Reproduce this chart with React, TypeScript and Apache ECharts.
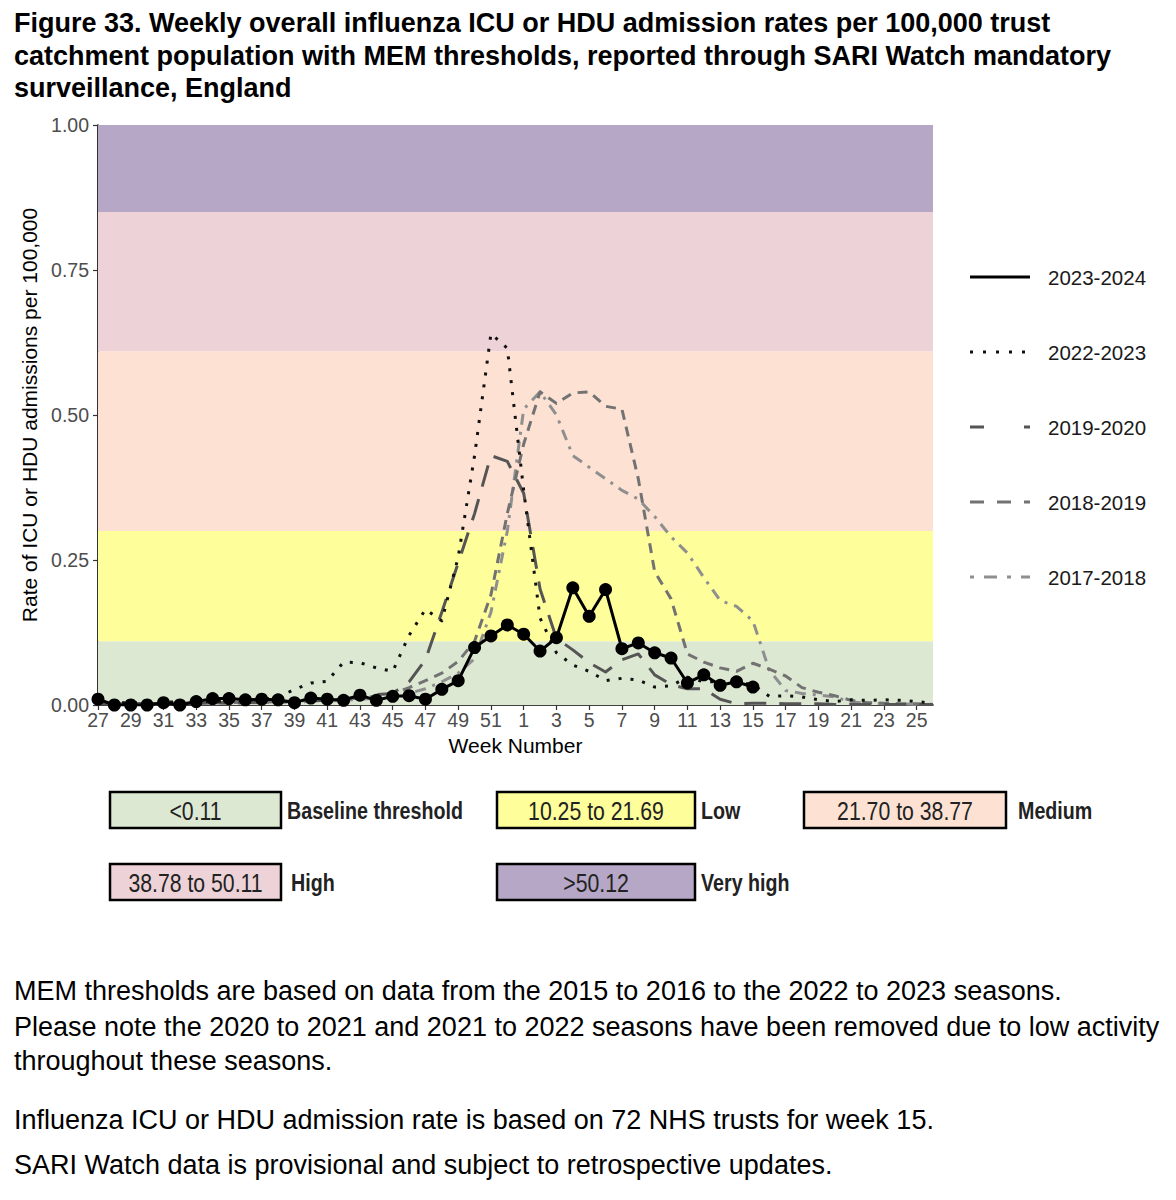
import React, { useEffect, useRef } from "react";
import * as echarts from "echarts";

// ---- categories ----
const weeks = [
  "27","28","29","30","31","32","33","34","35","36","37","38","39","40","41","42","43","44","45","46","47","48","49","50","51","52",
  "1","2","3","4","5","6","7","8","9","10","11","12","13","14","15","16","17","18","19","20","21","22","23","24","25","26",
];

// ---- series values (rate per 100,000) ----
const s2324 = [
  0.010, 0.000, 0.000, 0.000, 0.004, 0.000, 0.006, 0.011, 0.011, 0.009, 0.010, 0.009, 0.004, 0.012, 0.010, 0.008, 0.017, 0.008, 0.015, 0.016, 0.010, 0.027, 0.042, 0.099, 0.119, 0.138,
  0.122, 0.093, 0.116, 0.202, 0.153, 0.199, 0.097, 0.107, 0.090, 0.081, 0.038, 0.052, 0.034, 0.040, 0.031,
];
const s2223 = [
  0.005, 0.004, 0.004, 0.004, 0.005, 0.005, 0.006, 0.006, 0.007, 0.008, 0.010, 0.013, 0.027, 0.038, 0.041, 0.074, 0.073, 0.064, 0.058, 0.120, 0.165, 0.145, 0.255, 0.430, 0.640, 0.615,
  0.370, 0.150, 0.090, 0.069, 0.058, 0.042, 0.046, 0.043, 0.031, 0.033, 0.048, 0.040, 0.040, 0.040, 0.035, 0.015, 0.016, 0.014, 0.009, 0.006, 0.009, 0.008, 0.009, 0.008, 0.006, 0.003,
];
const s1920 = [
  0.003, 0.002, 0.002, 0.002, 0.003, 0.003, 0.003, 0.004, 0.004, 0.004, 0.005, 0.005, 0.006, 0.007, 0.008, 0.010, 0.016, 0.018, 0.020, 0.040, 0.078, 0.160, 0.245, 0.330, 0.430, 0.420,
  0.365, 0.200, 0.115, 0.095, 0.073, 0.057, 0.078, 0.088, 0.052, 0.035, 0.028, 0.028, 0.010, 0.002, 0.003, 0.003, 0.002, 0.002, 0.002, 0.001, 0.001, 0.001, 0.001, 0.001, 0.001, 0.001,
];
const s1819 = [
  0.003, 0.003, 0.002, 0.002, 0.003, 0.003, 0.003, 0.004, 0.004, 0.005, 0.005, 0.006, 0.007, 0.008, 0.009, 0.010, 0.012, 0.015, 0.020, 0.030, 0.042, 0.055, 0.075, 0.110, 0.190, 0.330,
  0.450, 0.540, 0.520, 0.538, 0.540, 0.515, 0.510, 0.390, 0.230, 0.183, 0.088, 0.074, 0.064, 0.058, 0.072, 0.062, 0.050, 0.030, 0.022, 0.016, 0.008, 0.004, 0.003, 0.002, 0.002, 0.001,
];
const s1718 = [
  0.002, 0.002, 0.002, 0.002, 0.002, 0.003, 0.003, 0.003, 0.003, 0.004, 0.004, 0.005, 0.005, 0.006, 0.007, 0.008, 0.010, 0.012, 0.015, 0.020, 0.028, 0.040, 0.055, 0.080, 0.160, 0.300,
  0.510, 0.540, 0.500, 0.430, 0.410, 0.390, 0.370, 0.355, 0.325, 0.290, 0.262, 0.220, 0.180, 0.170, 0.145, 0.060, 0.025, 0.020, 0.017, 0.014, 0.005, 0.003, 0.002, 0.002, 0.001, 0.001,
];

// ---- axis ticks ----
const yTicks = [0, 0.25, 0.5, 0.75, 1.0];

// ---- MEM threshold bands ----
const bandEdges = [0, 0.11, 0.3, 0.61, 0.85, 1.0];
const bandColors = ["#dde8d3", "#fefe9a", "#fde2d3", "#edd3d7", "#b5a7c5"];
const thresholdRanges = ["<0.11", "10.25 to 21.69", "21.70 to 38.77", "38.78 to 50.11", ">50.12"];
const thresholdNames = ["Baseline threshold", "Low", "Medium", "High", "Very high"];

// ---- legend ----
const seasonNames = ["2023-2024", "2022-2023", "2019-2020", "2018-2019", "2017-2018"];

const titleLines = [
  "Figure 33. Weekly overall influenza ICU or HDU admission rates per 100,000 trust",
  "catchment population with MEM thresholds, reported through SARI Watch mandatory",
  "surveillance, England",
];
const noteLines = [
  "MEM thresholds are based on data from the 2015 to 2016 to the 2022 to 2023 seasons.",
  "Please note the 2020 to 2021 and 2021 to 2022 seasons have been removed due to low activity",
  "throughout these seasons.",
  "Influenza ICU or HDU admission rate is based on 72 NHS trusts for week 15.",
  "SARI Watch data is provisional and subject to retrospective updates.",
];

const FONT = "'Liberation Sans', Arial, Helvetica, sans-serif";

function buildOption() {
  const styles: Record<string, any> = {
    "2023-2024": { color: "#000000", width: 3, type: "solid", legendDash: null },
    "2022-2023": { color: "#111111", width: 3, type: [3, 9], legendDash: [3, 10] },
    "2019-2020": { color: "#555555", width: 3, type: [22, 13], legendDash: [14, 40] },
    "2018-2019": { color: "#727272", width: 3, type: [10, 7], legendDash: [14, 13] },
    "2017-2018": { color: "#8f8f8f", width: 3, type: [3, 7, 11, 7], legendDash: [4, 10, 13, 10] },
  };
  const seriesData: Record<string, number[]> = {
    "2023-2024": s2324,
    "2022-2023": s2223,
    "2019-2020": s1920,
    "2018-2019": s1819,
    "2017-2018": s1718,
  };
  const drawOrder = ["2017-2018", "2018-2019", "2019-2020", "2022-2023", "2023-2024"];

  const series: any[] = [
    {
      type: "line",
      name: "bands",
      data: weeks.map(() => null),
      silent: true,
      z: 1,
      symbol: "none",
      markArea: {
        silent: true,
        label: { show: false },
        data: bandColors.map((c, i) => [
          { yAxis: bandEdges[i], itemStyle: { color: c, opacity: 1 } },
          { yAxis: bandEdges[i + 1] },
        ]),
      },
    },
  ];
  drawOrder.forEach((name, k) => {
    const st = styles[name];
    const isCurrent = name === "2023-2024";
    series.push({
      type: "line",
      name,
      data: seriesData[name],
      z: 3 + k,
      symbol: isCurrent ? "circle" : "none",
      symbolSize: 13,
      showAllSymbol: true,
      itemStyle: { color: st.color },
      lineStyle: { color: st.color, width: st.width, type: st.type, cap: "butt", join: "round" },
      silent: true,
    });
  });

  const graphic: any[] = [];
  titleLines.forEach((t, i) => {
    graphic.push({
      type: "text",
      x: 14,
      y: 23 + i * 32.5,
      style: { text: t, fontSize: 27, fontWeight: "bold", fontFamily: FONT, fill: "#000", align: "left", verticalAlign: "middle" },
    });
  });
  // right legend
  seasonNames.forEach((name, i) => {
    const st = styles[name];
    const y = 277 + i * 75;
    graphic.push({
      type: "line",
      shape: { x1: 970, y1: y, x2: 1030, y2: y },
      style: { stroke: st.color, lineWidth: 3, lineDash: st.legendDash || undefined, lineCap: "butt" },
    });
    graphic.push({
      type: "text",
      x: 1048,
      y,
      style: { text: name, fontSize: 20.5, fontFamily: FONT, fill: "#1a1a1a", align: "left", verticalAlign: "middle" },
    });
  });
  // threshold key boxes
  const boxPos = [
    { x: 110, y: 792, w: 171, lx: 287 },
    { x: 497, y: 792, w: 198, lx: 701 },
    { x: 804, y: 792, w: 202, lx: 1018 },
    { x: 110, y: 864, w: 171, lx: 291 },
    { x: 497, y: 864, w: 198, lx: 701 },
  ];
  thresholdRanges.forEach((r, i) => {
    const b = boxPos[i];
    graphic.push({
      type: "rect",
      shape: { x: b.x, y: b.y, width: b.w, height: 36 },
      style: { fill: bandColors[i], stroke: "#000", lineWidth: 2.5 },
    });
    graphic.push({
      type: "text",
      x: b.x + b.w / 2,
      y: b.y + 19,
      scaleX: 0.85,
      style: { text: r, fontSize: 25, fontFamily: FONT, fill: "#222", align: "center", verticalAlign: "middle" },
    });
    graphic.push({
      type: "text",
      x: b.lx,
      y: b.y + 19,
      scaleX: 0.82,
      style: { text: thresholdNames[i], fontSize: 24, fontWeight: "bold", fontFamily: FONT, fill: "#222", align: "left", verticalAlign: "middle" },
    });
  });
  // notes
  const noteY = [991, 1027, 1061, 1120, 1165];
  noteLines.forEach((t, i) => {
    graphic.push({
      type: "text",
      x: 14,
      y: noteY[i],
      style: { text: t, fontSize: 27, fontFamily: FONT, fill: "#000", align: "left", verticalAlign: "middle" },
    });
  });

  return {
    animation: false,
    backgroundColor: "#ffffff",
    grid: { left: 98, top: 125, right: 243, bottom: 495, containLabel: false },
    xAxis: {
      type: "category",
      data: weeks,
      boundaryGap: false,
      name: "Week Number",
      nameLocation: "middle",
      nameGap: 30,
      nameTextStyle: { fontSize: 21, fontFamily: FONT, color: "#000" },
      axisLine: { show: true, lineStyle: { color: "#000", width: 1.6 } },
      axisTick: { show: true, interval: 1, length: 5, lineStyle: { color: "#333", width: 1.2 } },
      axisLabel: { interval: 1, fontSize: 19.5, fontFamily: FONT, color: "#4d4d4d", margin: 5 },
      splitLine: { show: false },
    },
    yAxis: {
      type: "value",
      min: yTicks[0],
      max: yTicks[yTicks.length - 1],
      interval: 0.25,
      name: "Rate of ICU or HDU admissions per 100,000",
      nameLocation: "middle",
      nameGap: 57,
      nameTextStyle: { fontSize: 21, fontFamily: FONT, color: "#000" },
      axisLine: { show: true, lineStyle: { color: "#000", width: 1.6 } },
      axisTick: { show: true, length: 5, lineStyle: { color: "#333", width: 1.2 } },
      axisLabel: { fontSize: 19.5, fontFamily: FONT, color: "#4d4d4d", margin: 9, formatter: (v: number) => v.toFixed(2) },
      splitLine: { show: false },
    },
    series,
    graphic,
  };
}

export default function App() {
  const ref = useRef<HTMLDivElement>(null);
  useEffect(() => {
    if (!ref.current) return;
    const chart = echarts.init(ref.current, undefined, { renderer: "svg" });
    chart.setOption(buildOption() as any);
    return () => chart.dispose();
  }, []);
  return (
    <div
      ref={ref}
      style={{ position: "fixed", left: 0, top: 0, width: 1176, height: 1200, background: "#fff" }}
    />
  );
}
